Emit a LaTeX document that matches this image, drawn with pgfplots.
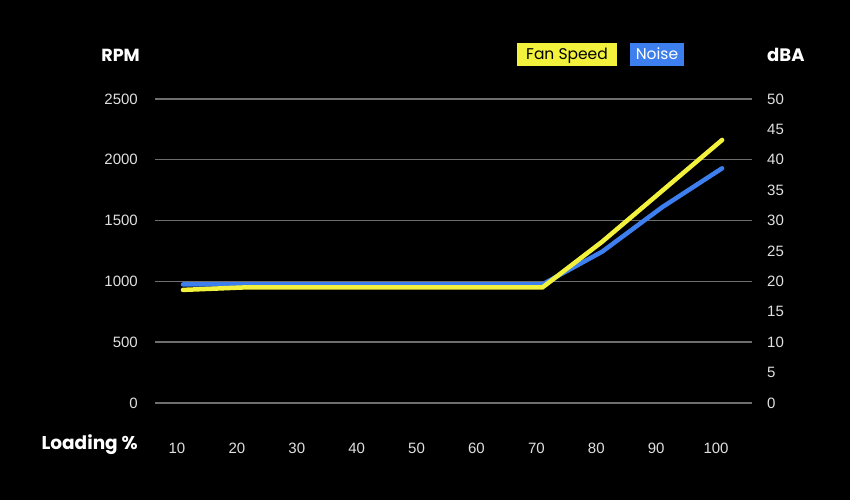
\documentclass[border=0pt]{standalone}
\usepackage{pgfplots}
\pgfplotsset{compat=1.18}
\usepackage{fontspec}
\setmainfont{Liberation Sans}
\newfontfamily\pop{Poppins}
\definecolor{fanY}{HTML}{F2F23C}
\definecolor{noiseB}{HTML}{3D7FEE}
\definecolor{gridc}{HTML}{6E6E6E}
\definecolor{tickc}{HTML}{E0E0E0}
\begin{document}
\begin{tikzpicture}[x=1pt,y=1pt]
\fill[black] (0,0) rectangle (850,500);
\useasboundingbox (0,0) rectangle (850,500);
% right axis (dBA) with grid and noise
\begin{axis}[
  at={(155pt,97pt)}, anchor=south west, scale only axis,
  width=597pt, height=304pt,
  xmin=5.33, xmax=105, ymin=0, ymax=50,
  axis x line=none, axis y line*=right,
  axis line style={draw=none}, major tick length=0pt,
  ytick={0,10,...,50},
  extra y ticks={5,15,...,45},
  extra y tick style={grid=none},
  ymajorgrids, grid style={gridc, line width=1.4pt},
  yticklabel style={anchor=west, inner sep=0pt, xshift=15pt, text=tickc, font=\fontsize{15}{15}\selectfont},
  /pgf/number format/assume math mode=true,
  clip=false,
]
\addplot[noiseB, line width=4.5pt, line cap=round, line join=round] coordinates {
(10,19.5) (20,19.5) (30,19.5) (40,19.5) (50,19.5) (60,19.5) (70,19.5) (80,24.9) (90,32.2) (100,38.6)};
\end{axis}
% left axis (RPM) with fan speed
\begin{axis}[
  at={(155pt,97pt)}, anchor=south west, scale only axis,
  width=597pt, height=304pt,
  xmin=5.33, xmax=105, ymin=0, ymax=2500,
  axis x line*=bottom, axis y line*=left,
  axis line style={draw=none}, major tick length=0pt,
  xtick={10,20,...,100}, ytick={0,500,...,2500},
  yticklabel style={anchor=east, inner sep=0pt, xshift=-17pt, text=tickc, font=\fontsize{15}{15}\selectfont},
  xticklabel style={anchor=center, inner sep=0pt, yshift=-45pt, xshift=-6pt, text=tickc, font=\fontsize{15}{15}\selectfont},
  /pgf/number format/assume math mode=true,
  /pgf/number format/set thousands separator={},
  clip=false,
]
\addplot[fanY, line width=4.5pt, line cap=round, line join=round] coordinates {
(10,930) (20,950) (30,950) (40,950) (50,950) (60,950) (70,950) (80,1327) (90,1745) (100,2163)};
\end{axis}
\node[anchor=east, inner sep=0pt, text=white] at (140,445) {\pop\bfseries\fontsize{17.5}{17.5}\selectfont RPM};
\node[anchor=west, inner sep=0pt, text=white] at (767,445) {\pop\bfseries\fontsize{18}{18}\selectfont dBA};
\node[anchor=east, inner sep=0pt, text=white] at (138,55) {\pop\bfseries\fontsize{18.5}{18.5}\selectfont Loading \%};
\fill[fanY] (517,434) rectangle (617,457);
\fill[noiseB] (630,434) rectangle (684,457);
\node[anchor=base, inner sep=0pt, text=black] at (567,440) {\pop\fontsize{15.5}{15.5}\selectfont Fan Speed};
\node[anchor=base, inner sep=0pt, text=white] at (657,440) {\pop\fontsize{15.5}{15.5}\selectfont Noise};
\end{tikzpicture}
\end{document}
